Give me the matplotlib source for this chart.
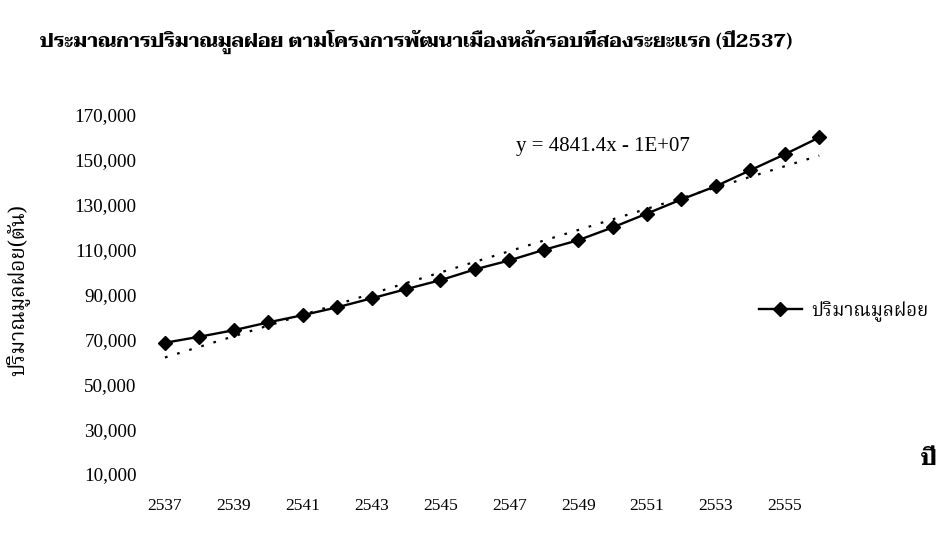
import numpy as np
import matplotlib
matplotlib.use("Agg")
import matplotlib.pyplot as plt

# ปริมาณมูลฝอยรายปี (ตัน)
years = list(range(2537, 2557))
waste = [68500, 71200, 74100, 77600, 80800, 84300, 88300, 92400, 96400, 101200,
         105200, 109900, 114200, 119900, 126100, 132400, 138300, 145400, 152500, 160000]
ytick_vals = list(range(10000, 170001, 20000))
xtick_vals = list(range(2537, 2556, 2))

thai = ["Noto Serif Thai", "Liberation Serif"]
thai_bold = ["Taviraj", "Liberation Serif"]
num = "Liberation Serif"

fig = plt.figure(figsize=(9.43, 5.35), dpi=100)
ax = fig.add_axes([0.1567, 0.072, 0.7303, 0.713])

line, = ax.plot(years, waste, color="black", lw=1.7, marker="D", markersize=7,
                label="ปริมาณมูลฝอย")

# เส้นแนวโน้มเชิงเส้น
slope, icpt = np.polyfit(years, waste, 1)
xs = np.array([years[0], years[-1]])
ax.plot(xs, slope * xs + icpt, color="black", lw=1.6, linestyle=(0, (1.2, 4.5)))

ax.set_xlim(2536.5, 2556.5)
ax.set_ylim(0, 170000)
ax.set_yticks(ytick_vals)
ax.set_yticklabels([f"{v:,}" for v in ytick_vals], family=num, fontsize=13.8)
ax.set_xticks(xtick_vals)
ax.set_xticklabels([str(v) for v in xtick_vals], family=num, fontsize=12.5)
ax.tick_params(length=0)
ax.tick_params(axis="y", pad=8)
ax.tick_params(axis="x", pad=1)
for s in ax.spines.values():
    s.set_visible(False)

ax.text(2547.2, 155800, "y = 4841.4x - 1E+07", family=num, fontsize=15,
        va="center", ha="left")

fig.text(40 / 943, 1 - 42 / 535,
         "ประมาณการปริมาณมูลฝอย ตามโครงการพัฒนาเมืองหลักรอบที่สองระยะแรก (ปี2537)",
         family=thai_bold, fontsize=14, fontweight="bold",
         ha="left", va="center")
fig.text(18 / 943, 1 - 290 / 535, "ปริมาณมูลฝอย(ตัน)", family=thai, fontsize=15,
         rotation=90, ha="center", va="center")
fig.text(929 / 943, 1 - 460 / 535, "ปี", family=thai_bold, fontsize=16, fontweight="bold",
         ha="center", va="center")

fig.legend(handles=[line], loc="center left", bbox_to_anchor=(742 / 943, 1 - 311 / 535),
           frameon=False, prop={"family": thai, "size": 13.5}, handlelength=2.3,
           handletextpad=0.5)

fig.savefig("out.png")
